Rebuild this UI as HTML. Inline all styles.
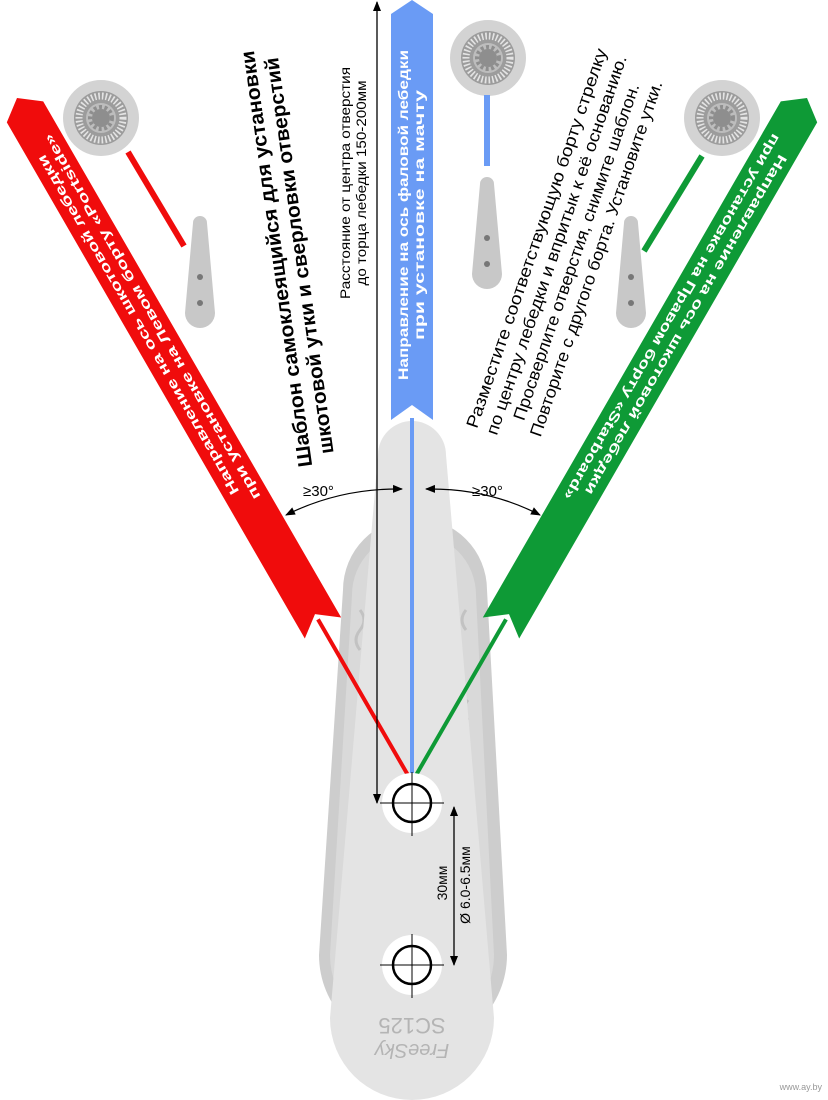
<!DOCTYPE html>
<html><head><meta charset="utf-8"><style>
html,body{margin:0;padding:0;background:#fff;}
svg{display:block;}
.n{font-family:"Liberation Sans Narrow","Liberation Sans",sans-serif;}
.b{font-family:"Liberation Sans","DejaVu Sans",sans-serif;font-weight:bold;}
</style></head><body>
<svg width="828" height="1100" viewBox="0 0 828 1100" xmlns="http://www.w3.org/2000/svg">
<defs>
<marker id="ah" markerWidth="10" markerHeight="10" refX="9" refY="5" orient="auto-start-reverse" markerUnits="userSpaceOnUse">
<path d="M0,1 L10,5 L0,9 Z" fill="#000"/></marker>
<g id="winch">
<circle r="38" fill="#d3d3d3"/>
<circle r="27" fill="#9c9c9c"/>
<circle r="22" fill="none" stroke="#e4e4e4" stroke-width="7" stroke-dasharray="1.6 2"/>
<circle r="15" fill="#bdbdbd"/>
<circle r="11" fill="none" stroke="#8e8e8e" stroke-width="4" stroke-dasharray="3 2.5"/>
<circle r="9" fill="#8e8e8e"/>
</g>
<g id="cleat">
<path d="M-7,8 A7,7 0 0 1 7,8 L15,98 A15,15 0 0 1 -15,98 Z" fill="#c8c8c8"/>
<circle cx="0" cy="62" r="3" fill="#777"/>
<circle cx="0" cy="88" r="3" fill="#777"/>
</g>
</defs>

<!-- plates -->
<path d="M343,590 A72,72 0 0 1 487,590 L507,955 A94,94 0 0 1 319,955 Z" fill="#cdcdcd"/>
<path d="M352,595 A62,62 0 0 1 476,595 L494,955 A82,82 0 0 1 330,955 Z" fill="#d9d9d9"/>
<g fill="none" stroke="#c2c2c2" stroke-width="3">
<path d="M360,610 q8,10 0,20 q-8,10 0,20"/><path d="M362,700 q8,10 0,20 q-8,10 0,20"/>
<path d="M466,610 q-8,10 0,20"/><path d="M468,700 q-8,10 0,20"/>
</g>
<path d="M378,455 A34,34 0 0 1 446,455 L494,1018 A82,82 0 0 1 330,1018 Z" fill="#e4e4e4"/>

<!-- text on plate -->
<g transform="translate(412,1018) rotate(180)" fill="#b4b4b4" class="n">
<text x="0" y="0" text-anchor="middle" font-size="22">SC125</text>
<text x="0" y="-26" text-anchor="middle" font-size="20" font-style="italic">FreeSky</text>
</g>

<!-- blue -->
<path d="M391,14 L412,0 L433,14 L433,420 L412,405 L391,420 Z" fill="#6a9bf5"/>
<line x1="412" y1="418" x2="412" y2="790" stroke="#6a9bf5" stroke-width="4"/>
<g transform="translate(412,215) rotate(-90)" fill="#fff" class="b" font-size="13.5">
<text x="0" y="-4" text-anchor="middle" textLength="330" lengthAdjust="spacingAndGlyphs">Направление на ось фаловой лебедки</text>
<text x="0" y="12" text-anchor="middle" textLength="250" lengthAdjust="spacingAndGlyphs">при установке на мачту</text>
</g>

<!-- red -->
<g transform="translate(323,628) rotate(-30)">
<path d="M-21,-596 L0,-612 L21,-596 L21,0 L0,-16 L-21,0 Z" fill="#f00c0c"/>
<line x1="0" y1="-10" x2="0" y2="175" stroke="#f00c0c" stroke-width="4"/>
<g transform="translate(0,-355) rotate(-90)" fill="#fff" class="b" font-size="13.5">
<text x="0" y="-4" text-anchor="middle" textLength="390" lengthAdjust="spacingAndGlyphs">Направление на ось шкотовой лебедки</text>
<text x="0" y="12" text-anchor="middle" textLength="420" lengthAdjust="spacingAndGlyphs">при установке на Левом борту «Portside»</text>
</g>
</g>

<!-- green -->
<g transform="translate(501,628) rotate(30)">
<path d="M-21,-596 L0,-612 L21,-596 L21,0 L0,-16 L-21,0 Z" fill="#0e9a36"/>
<line x1="0" y1="-10" x2="0" y2="175" stroke="#0e9a36" stroke-width="4"/>
<g transform="translate(0,-355) rotate(90)" fill="#fff" class="b" font-size="13.5">
<text x="0" y="-4" text-anchor="middle" textLength="390" lengthAdjust="spacingAndGlyphs">Направление на ось шкотовой лебедки</text>
<text x="0" y="12" text-anchor="middle" textLength="420" lengthAdjust="spacingAndGlyphs">при установке на Правом борту «Starboard»</text>
</g>
</g>

<!-- holes -->
<g stroke="#000">
<circle cx="412" cy="803" r="30" fill="#fff" stroke="none"/>
<circle cx="412" cy="803" r="19" fill="none" stroke-width="2.5"/>
<line x1="380" y1="803" x2="444" y2="803" stroke-width="1"/>
<line x1="412" y1="772" x2="412" y2="836" stroke-width="1"/>
<circle cx="412" cy="965" r="30" fill="#fff" stroke="none"/>
<circle cx="412" cy="965" r="19" fill="none" stroke-width="2.5"/>
<line x1="380" y1="965" x2="444" y2="965" stroke-width="1"/>
<line x1="412" y1="934" x2="412" y2="998" stroke-width="1"/>
</g>

<!-- black dimension lines -->
<line x1="377" y1="2" x2="377" y2="803" stroke="#000" stroke-width="1.3" marker-start="url(#ah)" marker-end="url(#ah)"/>
<line x1="454" y1="807" x2="454" y2="965" stroke="#000" stroke-width="1.3" marker-start="url(#ah)" marker-end="url(#ah)"/>
<g transform="translate(447,883) rotate(-90)" class="n" font-size="14"><text x="0" y="0" text-anchor="middle">30мм</text></g>
<g transform="translate(470,885) rotate(-90)" class="n" font-size="14"><text x="0" y="0" text-anchor="middle">Ø 6.0-6.5мм</text></g>

<g transform="translate(350,183) rotate(-90)" class="n" font-size="14">
<text x="0" y="0" text-anchor="middle" textLength="232" lengthAdjust="spacingAndGlyphs">Расстояние от центра отверстия</text>
<text x="0" y="16" text-anchor="middle" textLength="205" lengthAdjust="spacingAndGlyphs">до торца лебедки 150-200мм</text>
</g>

<!-- angle arcs -->
<path d="M286,515 Q340,488 402,489" fill="none" stroke="#000" stroke-width="1.2" marker-start="url(#ah)" marker-end="url(#ah)"/>
<path d="M426,489 Q488,488 540,515" fill="none" stroke="#000" stroke-width="1.2" marker-start="url(#ah)" marker-end="url(#ah)"/>
<text x="303" y="496" class="n" font-size="15">≥30°</text>
<text x="472" y="496" class="n" font-size="15">≥30°</text>

<!-- title -->
<g transform="translate(283,258) rotate(-98)" class="b" font-size="20" fill="#000">
<text x="0" y="0" text-anchor="middle" textLength="420" lengthAdjust="spacingAndGlyphs">Шаблон самоклеящийся для установки</text>
<text x="0" y="23" text-anchor="middle" textLength="400" lengthAdjust="spacingAndGlyphs">шкотовой утки и сверловки отверстий</text>
</g>

<!-- instructions -->
<g transform="translate(542,240) rotate(-71)" class="n" font-size="17" fill="#000">
<text x="0" y="0" text-anchor="middle" textLength="400" lengthAdjust="spacingAndGlyphs">Разместите соответствующую борту стрелку</text>
<text x="0" y="21" text-anchor="middle" textLength="400" lengthAdjust="spacingAndGlyphs">по центру лебедки и впритык к её основанию.</text>
<text x="0" y="42" text-anchor="middle" textLength="355" lengthAdjust="spacingAndGlyphs">Просверлите отверстия, снимите шаблон.</text>
<text x="0" y="63" text-anchor="middle" textLength="375" lengthAdjust="spacingAndGlyphs">Повторите с другого борта. Установите утки.</text>
</g>

<!-- icons -->
<use href="#winch" x="101" y="118"/>
<line x1="128" y1="152" x2="184" y2="246" stroke="#f00c0c" stroke-width="6"/>
<use href="#cleat" x="200" y="215"/>

<use href="#winch" x="488" y="58"/>
<line x1="487" y1="95" x2="487" y2="166" stroke="#6a9bf5" stroke-width="6"/>
<use href="#cleat" x="487" y="176"/>

<use href="#winch" x="722" y="118"/>
<line x1="702" y1="156" x2="644" y2="251" stroke="#0e9a36" stroke-width="6"/>
<use href="#cleat" x="631" y="215"/>

<text x="822" y="1090" text-anchor="end" font-family="Liberation Sans, sans-serif" font-size="9" fill="#999">www.ay.by</text>
</svg>
</body></html>
